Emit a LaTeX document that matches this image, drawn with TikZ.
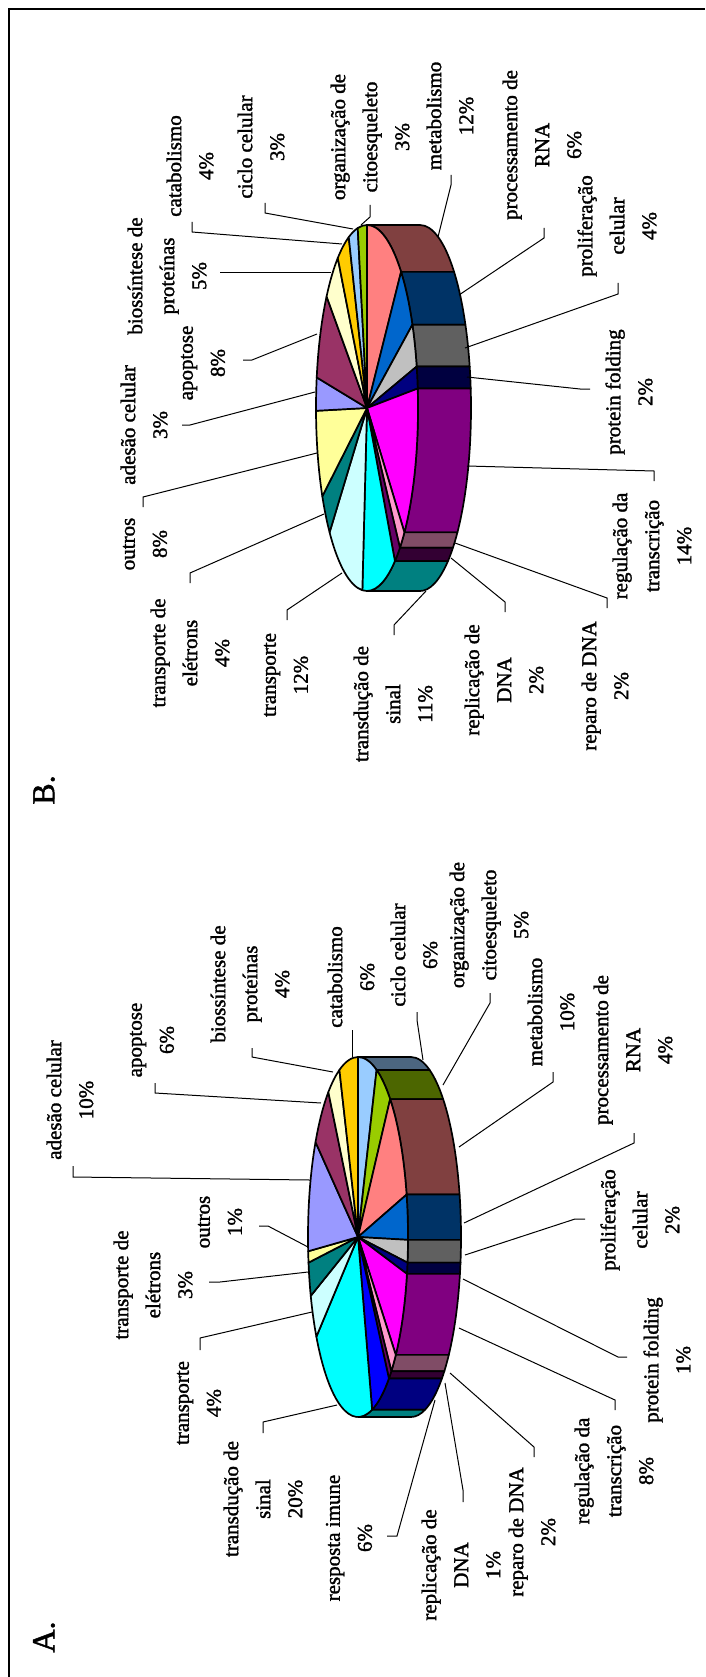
\documentclass[tikz,border=0pt]{standalone}
\usepackage{fontspec}
\setmainfont{Liberation Serif}
\newfontfamily\lblfont[FakeBold=1.5]{Liberation Serif}
\definecolor{cCic}{HTML}{99CCFF}
\definecolor{cOrg}{HTML}{99CC00}
\definecolor{cMet}{HTML}{FF8080}
\definecolor{cPro}{HTML}{0066CC}
\definecolor{cPrl}{HTML}{C0C0C0}
\definecolor{cFol}{HTML}{000080}
\definecolor{cReg}{HTML}{FF00FF}
\definecolor{cRep}{HTML}{FF99CC}
\definecolor{cRpl}{HTML}{660066}
\definecolor{cImu}{HTML}{0000FF}
\definecolor{cSin}{HTML}{00FFFF}
\definecolor{cTra}{HTML}{CCFFFF}
\definecolor{cEle}{HTML}{008080}
\definecolor{cOut}{HTML}{FFFF99}
\definecolor{cAde}{HTML}{9999FF}
\definecolor{cApo}{HTML}{993366}
\definecolor{cBio}{HTML}{FFFFCC}
\definecolor{cCat}{HTML}{FFCC00}

% 3d pie: #1,#2 centre, #3,#4 radii, #5 depth, #6 total, #7 list pct/colour
\newcommand{\piechart}[7]{%
  \xdef\angA{-90}%
  \foreach \pct/\col in {#7}{%
    \pgfmathsetmacro\angB{\angA+\pct*360/#6}
    \pgfmathsetmacro\sA{max(\angA,-90)}
    \pgfmathsetmacro\sB{min(\angB,90)}
    \ifdim\sA pt<\sB pt
      \filldraw[pie,fill=\col!50!black] ({#1+#3*cos(\sA)},{#2+#4*sin(\sA)})
        arc[start angle=\sA,end angle=\sB,x radius=#3,y radius=#4] -- ++(#5,0)
        arc[start angle=\sB,end angle=\sA,x radius=#3,y radius=#4] -- cycle;
    \fi
    \filldraw[pie,fill=\col] (#1,#2) -- ({#1+#3*cos(\angA)},{#2+#4*sin(\angA)})
      arc[start angle=\angA,end angle=\angB,x radius=#3,y radius=#4] -- cycle;
    \xdef\angA{\angB}
  }}

\begin{document}
\begin{tikzpicture}[x=1pt,y=-1pt,
  lbl/.style={rotate=90,align=center,inner sep=0pt,font=\lblfont\fontsize{21}{32}\selectfont},
  big/.style={rotate=90,inner sep=0pt,font=\lblfont\fontsize{32}{36}\selectfont},
  pie/.style={draw=black,line width=1.7pt,line join=round},
  lead/.style={draw=black,line width=1pt},
  frame/.style={line width=2.2pt}]
\useasboundingbox (0,0) rectangle (705,1677);
\draw[frame] (9,1677) -- (9,9) -- (705,9);

% --- chart B (top) ---
\piechart{367}{408}{51}{183}{53}{103}{12/cMet,6/cPro,4/cPrl,2/cFol,14/cReg,2/cRep,2/cRpl,11/cSin,12/cTra,4/cEle,8/cOut,3/cAde,8/cApo,5/cBio,4/cCat,3/cCic,3/cOrg}
\node[big] (bTag) at (44,790) {B.};
\node[lbl] (bCat) at (190,166) {catabolismo\\4\%};
\node[lbl] (bCic) at (261,147) {ciclo celular\\3\%};
\node[lbl] (bOrg) at (370,137) {organização de\\citoesqueleto\\3\%};
\node[lbl] (bMet) at (450,116) {metabolismo\\12\%};
\node[lbl] (bPro) at (542,145) {processamento de\\RNA\\6\%};
\node[lbl] (bPrl) at (617,226) {proliferação\\celular\\4\%};
\node[lbl] (bFol) at (629,392) {protein folding\\2\%};
\node[lbl] (bReg) at (652,546) {regulação da\\transcrição\\14\%};
\node[lbl] (bRep) at (605,686) {reparo de DNA\\2\%};
\node[lbl] (bRpl) at (504,680) {replicação de\\DNA\\2\%};
\node[lbl] (bSin) at (393,704) {transdução de\\sinal\\11\%};
\node[lbl] (bTra) at (286,675) {transporte\\12\%};
\node[lbl] (bEle) at (190,653) {transporte de\\elétrons\\4\%};
\node[lbl] (bOut) at (145,544) {outros\\8\%};
\node[lbl] (bAde) at (144,425) {adesão celular\\3\%};
\node[lbl] (bApo) at (203,363) {apoptose\\8\%};
\node[lbl] (bBio) at (167,276) {biossíntese de\\proteínas\\5\%};

% leaders B
\coordinate (bCatT) at (192,222); \coordinate (bCatP) at (342,244); \draw[lead] (bCatT) -- ++(0,10) -- (bCatP);
\coordinate (bCicT) at (265,203); \coordinate (bCicP) at (353,229); \draw[lead] (bCicT) -- ++(0,10) -- (bCicP);
\coordinate (bOrgT) at (370,205); \coordinate (bOrgP) at (361,225); \draw[lead] (bOrgT) -- ++(0,12) -- (bOrgP);
\coordinate (bMetT) at (451,175); \coordinate (bMetP) at (438,237); \draw[lead] (bMetT) -- ++(0,10) -- (bMetP);
\coordinate (bProT) at (544,228); \coordinate (bProP) at (459,295); \draw[lead] (bProT) -- ++(0,10) -- (bProP);
\coordinate (bPrlT) at (618,283); \coordinate (bPrlP) at (465,348); \draw[lead] (bPrlT) -- ++(0,11) -- (bPrlP);
\coordinate (bFolT) at (590,389); \coordinate (bFolP) at (467,377); \draw[lead] (bFolT) -- ++(-10,0) -- (bFolP);
\coordinate (bRegT) at (654,481); \coordinate (bRegP) at (467,466); \draw[lead] (bRegT) -- ++(0,-10) -- (bRegP);
\coordinate (bRepT) at (607,608); \coordinate (bRepP) at (455,543); \draw[lead] (bRepT) -- ++(0,-10) -- (bRepP);
\coordinate (bRplT) at (505,612); \coordinate (bRplP) at (451,558); \draw[lead] (bRplT) -- ++(0,-10) -- (bRplP);
\coordinate (bSinT) at (394,635); \coordinate (bSinP) at (426,591); \draw[lead] (bSinT) -- ++(0,-10) -- (bSinP);
\coordinate (bTraT) at (287,620); \coordinate (bTraP) at (342,573); \draw[lead] (bTraT) -- ++(0,-10) -- (bTraP);
\coordinate (bEleT) at (190,583); \coordinate (bEleP) at (324,514); \draw[lead] (bEleT) -- ++(0,-10) -- (bEleP);
\coordinate (bOutT) at (143,507); \coordinate (bOutP) at (317,453); \draw[lead] (bOutT) -- ++(0,-10) -- (bOutP);
\coordinate (bAdeT) at (182,425); \coordinate (bAdeP) at (315,392); \draw[lead] (bAdeT) -- ++(8,0) -- (bAdeP);
\coordinate (bApoT) at (243,360); \coordinate (bApoP) at (317,334); \draw[lead] (bApoT) -- ++(9,0) -- (bApoP);
\coordinate (bBioT) at (220,273); \coordinate (bBioP) at (331,273); \draw[lead] (bBioT) -- (bBioP);

% --- chart A (bottom) ---
\piechart{358}{1237}{50}{180}{53}{99}{6/cCic,5/cOrg,10/cMet,4/cPro,2/cPrl,1/cFol,8/cReg,2/cRep,1/cRpl,6/cImu,20/cSin,4/cTra,3/cEle,1/cOut,10/cAde,6/cApo,4/cBio,6/cCat}
\node[big] (aTag) at (44,1637) {A.};
\node[lbl] (aAde) at (70,1100) {adesão celular\\10\%};
\node[lbl] (aApo) at (152,1040) {apoptose\\6\%};
\node[lbl] (aBio) at (250,984) {biossíntese de\\proteínas\\4\%};
\node[lbl] (aCat) at (351,977) {catabolismo\\6\%};
\node[lbl] (aCic) at (414,955) {ciclo celular\\6\%};
\node[lbl] (aOrg) at (489,925) {organização de\\citoesqueleto\\5\%};
\node[lbl] (aMet) at (551,1012) {metabolismo\\10\%};
\node[lbl] (aPro) at (633,1050) {processamento de\\RNA\\4\%};
\node[lbl] (aPrl) at (640,1220) {proliferação\\celular\\2\%};
\node[lbl] (aFol) at (667,1360) {protein folding\\1\%};
\node[lbl] (aReg) at (614,1471) {regulação da\\transcrição\\8\%};
\node[lbl] (aRep) at (532,1532) {reparo de DNA\\2\%};
\node[lbl] (aRpl) at (461,1565) {replicação de\\DNA\\1\%};
\node[lbl] (aImu) at (349,1538) {resposta imune\\6\%};
\node[lbl] (aSin) at (263,1499) {transdução de\\sinal\\20\%};
\node[lbl] (aTra) at (199,1403) {transporte\\4\%};
\node[lbl] (aEle) at (153,1285) {transporte de\\elétrons\\3\%};
\node[lbl] (aOut) at (220,1222) {outros\\1\%};

% leaders A
\coordinate (aCicT) at (417,1012); \coordinate (aCicP) at (423,1060); \draw[lead] (aCicT) -- ++(0,8) -- (aCicP);
\coordinate (aOrgT) at (490,993); \coordinate (aOrgP) at (443,1085); \draw[lead] (aOrgT) -- ++(0,10) -- (aOrgP);
\coordinate (aMetT) at (553,1072); \coordinate (aMetP) at (459,1147); \draw[lead] (aMetT) -- ++(0,10) -- (aMetP);
\coordinate (aProT) at (634,1133); \coordinate (aProP) at (464,1223); \draw[lead] (aProT) -- ++(0,10) -- (aProP);
\coordinate (aPrlT) at (585,1219); \coordinate (aPrlP) at (465,1255); \draw[lead] (aPrlT) -- ++(-10,0) -- (aPrlP);
\coordinate (aFolT) at (627,1357); \coordinate (aFolP) at (463,1279); \draw[lead] (aFolT) -- ++(-9,0) -- (aFolP);
\coordinate (aRegT) at (615,1410); \coordinate (aRegP) at (459,1328); \draw[lead] (aRegT) -- ++(0,-10) -- (aRegP);
\coordinate (aRepT) at (534,1457); \coordinate (aRepP) at (450,1373); \draw[lead] (aRepT) -- ++(0,-10) -- (aRepP);
\coordinate (aRplT) at (463,1502); \coordinate (aRplP) at (445,1383); \draw[lead] (aRplT) -- ++(0,-12) -- (aRplP);
\coordinate (aImuT) at (387,1536); \coordinate (aImuP) at (435,1400); \draw[lead] (aImuT) -- ++(10,0) -- (aImuP);
\coordinate (aSinT) at (263,1433); \coordinate (aSinP) at (337,1405); \draw[lead] (aSinT) -- ++(0,-11) -- (aSinP);
\coordinate (aTraT) at (200,1350); \coordinate (aTraP) at (312,1312); \draw[lead] (aTraT) -- ++(0,-12) -- (aTraP);
\coordinate (aEleT) at (209,1282); \coordinate (aEleP) at (308,1272); \draw[lead] (aEleT) -- ++(11,0) -- (aEleP);
\coordinate (aOutT) at (259,1226); \coordinate (aOutP) at (308,1247); \draw[lead] (aOutT) -- ++(9,0) -- (aOutP);
\coordinate (aAdeT) at (73,1166); \coordinate (aAdeP) at (310,1180); \draw[lead] (aAdeT) -- ++(0,11) -- (aAdeP);
\coordinate (aApoT) at (155,1083); \coordinate (aApoP) at (321,1103); \draw[lead] (aApoT) -- ++(0,10) -- (aApoP);
\coordinate (aBioT) at (252,1048); \coordinate (aBioP) at (333,1072); \draw[lead] (aBioT) -- ++(0,9) -- (aBioP);
\coordinate (aCatT) at (352,1030); \coordinate (aCatP) at (352,1057); \draw[lead] (aCatT) -- (aCatP);
\end{tikzpicture}
\end{document}
